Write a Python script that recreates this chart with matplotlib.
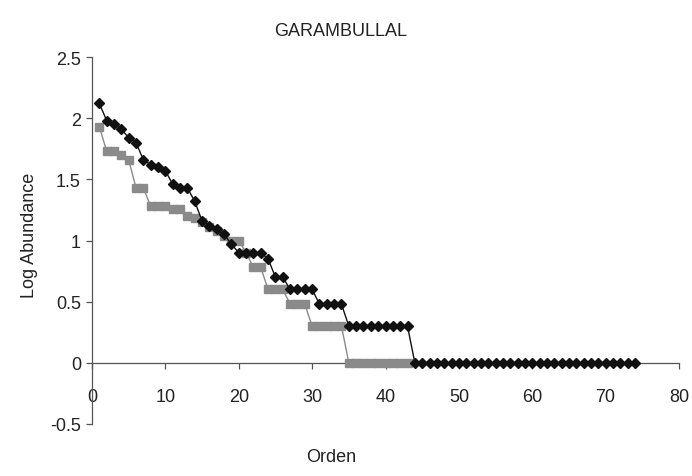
import numpy as np
import matplotlib
matplotlib.use("Agg")
import matplotlib.pyplot as plt

plt.rcParams['font.family'] = ['Liberation Sans', 'DejaVu Sans']

# log abundance by rank, two samples
serie_negra = [2.12, 1.98, 1.95, 1.91, 1.84, 1.80, 1.66, 1.62, 1.60, 1.57,
               1.46, 1.43, 1.43, 1.32, 1.16, 1.12, 1.09, 1.05, 0.97, 0.90,
               0.90, 0.90, 0.90, 0.85, 0.70, 0.70, 0.60, 0.60, 0.60, 0.60,
               0.48, 0.48, 0.48, 0.48, 0.30, 0.30, 0.30, 0.30, 0.30, 0.30,
               0.30, 0.30, 0.30, 0.0, 0.0, 0.0, 0.0, 0.0, 0.0, 0.0,
               0.0, 0.0, 0.0, 0.0, 0.0, 0.0, 0.0, 0.0, 0.0, 0.0,
               0.0, 0.0, 0.0, 0.0, 0.0, 0.0, 0.0, 0.0, 0.0, 0.0,
               0.0, 0.0, 0.0, 0.0]
serie_gris = [1.93, 1.73, 1.73, 1.70, 1.66, 1.43, 1.43, 1.28, 1.28, 1.28,
              1.26, 1.26, 1.20, 1.18, 1.15, 1.11, 1.08, 1.04, 1.00, 1.00,
              0.90, 0.78, 0.78, 0.60, 0.60, 0.60, 0.48, 0.48, 0.48, 0.30,
              0.30, 0.30, 0.30, 0.30, 0.0, 0.0, 0.0, 0.0, 0.0, 0.0,
              0.0, 0.0, 0.0]

x_ticks = [0, 10, 20, 30, 40, 50, 60, 70, 80]
y_ticks = [-0.5, 0, 0.5, 1, 1.5, 2, 2.5]

orden_negra = np.arange(1, len(serie_negra) + 1)
orden_gris = np.arange(1, len(serie_gris) + 1)

fig = plt.figure(figsize=(6.92, 4.77), dpi=100)
ax = fig.add_axes([92 / 692, 1 - 425 / 477, (679 - 92) / 692, (425 - 58) / 477])

ax.plot(orden_gris, serie_gris, color='#8a8a8a', lw=1.0, marker='s',
        ms=5.4, mec='#8a8a8a', mfc='#8a8a8a', zorder=3)
ax.plot(orden_negra, serie_negra, color='#111111', lw=1.0, marker='D',
        ms=4.8, mec='#111111', mfc='#111111', zorder=4)

ax.set_xlim(0, 80)
ax.set_ylim(-0.5, 2.5)
ax.set_xticks(x_ticks)
ax.set_yticks(y_ticks)
ax.set_yticklabels(['-0.5', '0', '0.5', '1', '1.5', '2', '2.5'])

axis_col = '#555555'
ax.spines['top'].set_visible(False)
ax.spines['right'].set_visible(False)
ax.spines['bottom'].set_position(('data', 0))
ax.spines['bottom'].set_color(axis_col)
ax.spines['left'].set_color(axis_col)
ax.spines['bottom'].set_linewidth(0.9)
ax.spines['left'].set_linewidth(0.9)
ax.tick_params(axis='x', direction='out', length=4, width=0.9,
               color=axis_col, pad=14, labelsize=13, labelcolor='#222222')
ax.tick_params(axis='y', direction='out', length=4, width=0.9,
               color=axis_col, pad=4, labelsize=13, labelcolor='#222222')

fig.text(341 / 692, 1 - 32 / 477, 'GARAMBULLAL', ha='center', va='center',
         fontsize=13, color='#222222')
fig.text(30 / 692, 1 - 235 / 477, 'Log Abundance', ha='center', va='center',
         rotation=90, fontsize=13, color='#222222')
fig.text(331 / 692, 1 - 458 / 477, 'Orden', ha='center', va='center',
         fontsize=13, color='#222222')

fig.savefig('out.png', dpi=100)
